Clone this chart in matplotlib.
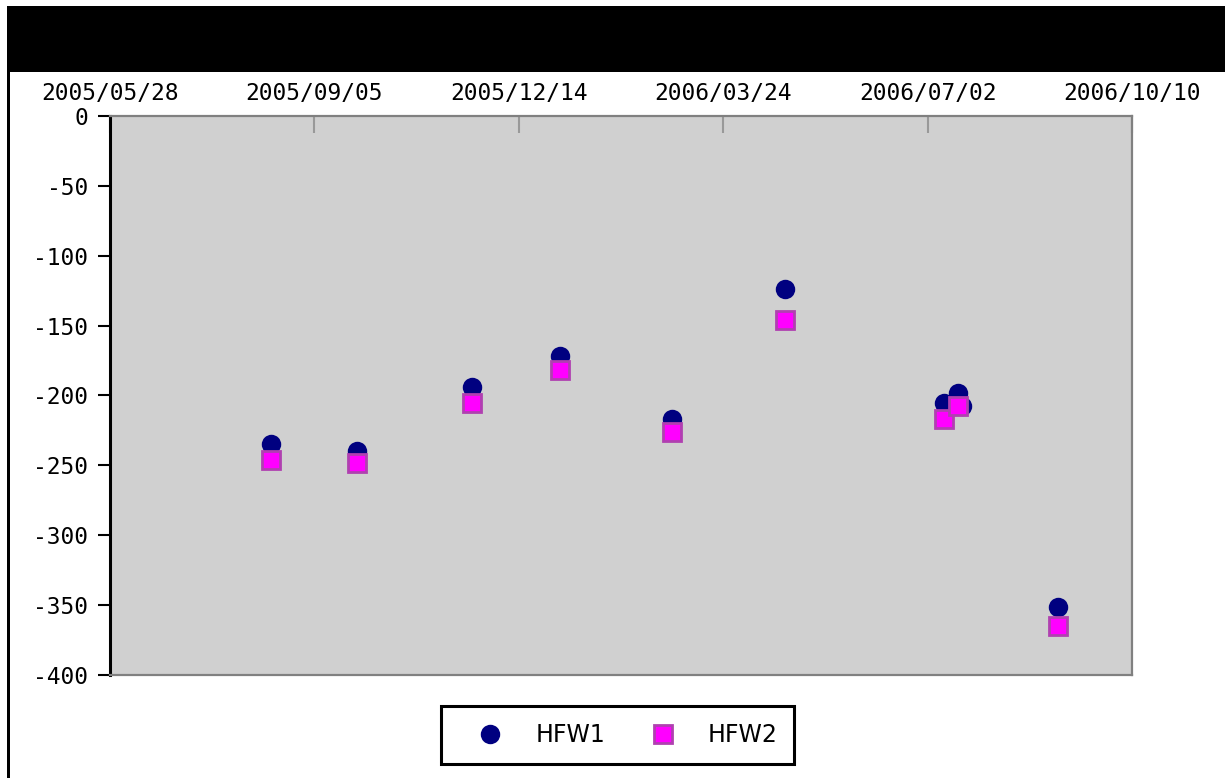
import matplotlib
matplotlib.use("Agg")
import matplotlib.pyplot as plt
from matplotlib.patches import Rectangle
from matplotlib.lines import Line2D
import numpy as np

# ---- data ----
hfw1_dates = ['2005-08-15', '2005-09-26', '2005-11-21', '2006-01-03', '2006-02-27',
              '2006-04-23', '2006-07-10', '2006-07-17', '2006-07-19', '2006-09-04']
hfw1_values = [-235, -240, -194, -171.5, -217, -124, -205.5, -198.5, -207.5, -351.5]

hfw2_dates = ['2005-08-15', '2005-09-26', '2005-11-21', '2006-01-03', '2006-02-27',
              '2006-04-23', '2006-07-10', '2006-07-17', '2006-09-04']
hfw2_values = [-246.5, -248.5, -205.5, -182, -226, -146, -217, -207.5, -365]

x_ticks = ['2005-05-28', '2005-09-05', '2005-12-14', '2006-03-24', '2006-07-02', '2006-10-10']
x_tick_labels = ['2005/05/28', '2005/09/05', '2005/12/14', '2006/03/24', '2006/07/02', '2006/10/10']
y_ticks = [0, -50, -100, -150, -200, -250, -300, -350, -400]
series_names = ['HFW1', 'HFW2']

W, H = 1225, 778
fig = plt.figure(figsize=(W / 100, H / 100), dpi=100)
fig.patch.set_facecolor('white')

# black header band and left border line
fig.add_artist(Rectangle((7 / W, 1 - 72 / H), 1 - 7 / W, 66 / H,
                         transform=fig.transFigure, facecolor='black', edgecolor='none'))
fig.add_artist(Rectangle((7 / W, 0), 3 / W, 1 - 72 / H,
                         transform=fig.transFigure, facecolor='black', edgecolor='none'))

ax = fig.add_axes([110 / W, 1 - 675 / H, 1022 / W, 559 / H])
ax.set_facecolor('#d0d0d0')

d1 = [np.datetime64(d) for d in hfw1_dates]
d2 = [np.datetime64(d) for d in hfw2_dates]
xt = [np.datetime64(d) for d in x_ticks]

c1 = dict(linestyle='none', marker='o', markersize=14, color='#000080', markeredgewidth=0)
c2 = dict(linestyle='none', marker='s', markersize=12.5, markerfacecolor='#ff00ff',
          markeredgecolor='#b040b0', markeredgewidth=2)

ax.plot(d1, hfw1_values, label=series_names[0], zorder=3, **c1)
ax.plot(d2, hfw2_values, label=series_names[1], zorder=4, **c2)

ax.set_xlim(xt[0], xt[-1])
ax.set_ylim(-400, 0)

ax.xaxis.tick_top()
ax.set_xticks(xt)
ax.set_xticklabels(x_tick_labels)
ax.set_yticks(y_ticks)
ax.set_yticklabels([str(v) for v in y_ticks])

for lbl in ax.get_xticklabels() + ax.get_yticklabels():
    lbl.set_fontfamily('DejaVu Sans Mono')
    lbl.set_fontsize(16.5)
    lbl.set_color('black')

ax.tick_params(axis='x', direction='in', length=12, width=1.5, colors='#999999',
               labelcolor='black', pad=8, top=True, bottom=False)
ax.tick_params(axis='y', direction='out', length=9, width=1.5, colors='black',
               labelcolor='black', pad=7)

for s in ['top', 'right', 'bottom']:
    ax.spines[s].set_color('#808080')
    ax.spines[s].set_linewidth(1.6)
ax.spines['left'].set_color('black')
ax.spines['left'].set_linewidth(2.2)

handles = [Line2D([], [], **c1), Line2D([], [], **c2)]
leg = fig.legend(handles, series_names, loc='center', bbox_to_anchor=(617.5 / W, 1 - 735 / H),
                 ncol=2, frameon=True, fancybox=False, edgecolor='black', framealpha=1,
                 prop=dict(family='DejaVu Sans', size=17), handlelength=2.8,
                 handletextpad=0.5, columnspacing=1.06, borderpad=0.7)
leg.get_frame().set_linewidth(2.2)

fig.savefig('out.png', dpi=100, facecolor='white')
